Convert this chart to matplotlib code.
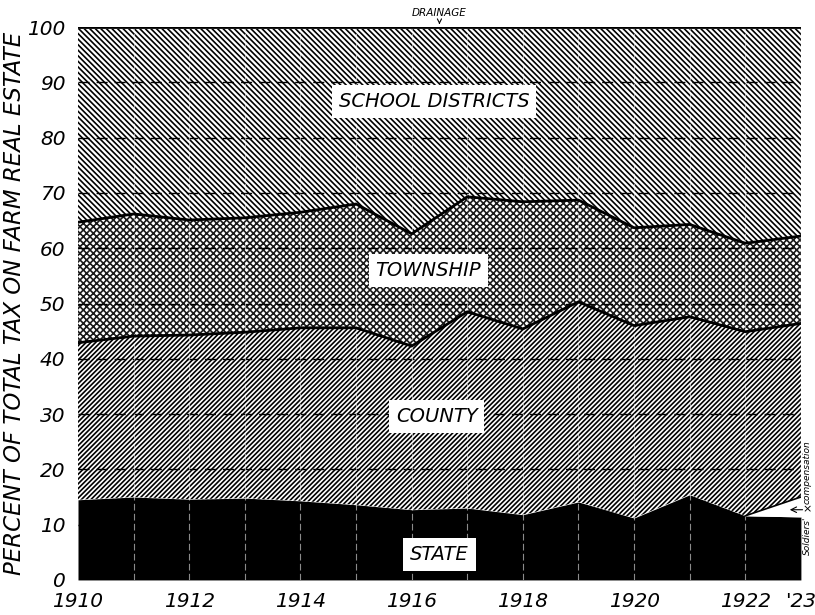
import numpy as np
import matplotlib.pyplot as plt

# -------------------------- data (percent of total tax on farm real estate) --------------------------
years = np.arange(1910, 1924)
state = [14.5, 15.0, 14.6, 14.8, 14.3, 13.6, 12.7, 13.0, 11.8, 14.1, 11.2, 15.4, 11.6, 11.4]
soldiers = [0, 0, 0, 0, 0, 0, 0, 0, 0, 0, 0, 0, 0, 3.6]
county = [28.4, 29.1, 29.7, 30.0, 31.3, 32.0, 29.6, 35.5, 33.6, 36.2, 34.8, 32.2, 33.3, 31.4]
township = [21.8, 22.1, 20.8, 20.7, 20.9, 22.4, 20.3, 20.8, 23.0, 18.4, 17.7, 16.7, 16.0, 15.8]
school = [35.0, 33.5, 34.6, 34.2, 33.2, 31.7, 37.1, 30.4, 31.3, 31.0, 36.0, 35.4, 38.8, 37.5]
drainage = [0.3] * 14

xtick_pos = [1910, 1912, 1914, 1916, 1918, 1920, 1922, 1923]
xtick_lab = ['1910', '1912', '1914', '1916', '1918', '1920', '1922', "'23"]
ytick_pos = list(range(0, 101, 10))

plt.rcParams['hatch.linewidth'] = 1.2
plt.rcParams['font.family'] = ['DejaVu Sans']

fig = plt.figure(figsize=(8.15, 6.15), dpi=100)
ax = fig.add_axes([0.0957, 0.057, 0.887, 0.899])

# cumulative boundaries
b0 = np.zeros(len(years))
b1 = b0 + np.array(state)
b2 = b1 + np.array(soldiers)
b3 = b2 + np.array(county)
b4 = b3 + np.array(township)
b5 = b4 + np.array(school)
b6 = b5 + np.array(drainage)

ax.fill_between(years, b0, b1, facecolor='black', edgecolor='black', lw=0)
ax.fill_between(years, b1, b2, facecolor='white', edgecolor='black', lw=0)
ax.fill_between(years, b2, b3, facecolor='white', edgecolor='black', hatch='/' * 7, lw=0)
ax.fill_between(years, b3, b4, facecolor='white', edgecolor='#1a1a1a', hatch='x' * 5, lw=0)
ax.fill_between(years, b4, b5, facecolor='white', edgecolor='black', hatch='\\' * 6, lw=0)
ax.fill_between(years, b5, b6, facecolor='white', edgecolor='black', lw=0)

# grid: dashed horizontals, faint verticals
for yv in range(10, 100, 10):
    ax.axhline(yv, color='black', lw=1.0, ls=(0, (8, 5)), zorder=3)
for xv in years[1:-1]:
    ax.axvline(xv, color='white', lw=0.8, ls=(0, (6, 3)), alpha=0.55, zorder=3)

# boundary lines
ax.plot(years, b3, color='black', lw=2.0, zorder=4)
ax.plot(years, b4, color='black', lw=2.0, zorder=4)
ax.plot(years, b6, color='black', lw=2.0, zorder=4)
ax.plot(years[-2:], b2[-2:], color='black', lw=1.2, zorder=4)

ax.set_xlim(1910, 1923)
ax.set_ylim(0, 100)
for s in ax.spines.values():
    s.set_visible(False)

ax.set_xticks(xtick_pos)
ax.set_xticklabels(xtick_lab, fontsize=14.5, style='italic')
ax.set_yticks(ytick_pos)
ax.set_yticklabels([str(v) for v in ytick_pos], fontsize=14.5, style='italic')
ax.tick_params(length=0, pad=9)
ax.set_ylabel('PERCENT OF TOTAL TAX ON FARM REAL ESTATE', fontsize=16.5, style='italic', labelpad=1)

box = dict(facecolor='white', edgecolor='none', pad=5)
ax.text(1916.4, 86.5, 'SCHOOL DISTRICTS', fontsize=14, style='italic', ha='center', va='center', bbox=box, zorder=5)
ax.text(1916.3, 56.0, 'TOWNSHIP', fontsize=14, style='italic', ha='center', va='center', bbox=box, zorder=5)
ax.text(1916.45, 29.5, 'COUNTY', fontsize=14, style='italic', ha='center', va='center', bbox=box, zorder=5)
ax.text(1916.5, 4.6, 'STATE', fontsize=14, style='italic', ha='center', va='center', bbox=box, zorder=5)

ax.annotate('DRAINAGE', xy=(1916.5, 100), xytext=(1916.5, 102.6), fontsize=7.5, style='italic',
            ha='center', va='center', annotation_clip=False,
            arrowprops=dict(arrowstyle='->', color='black', lw=0.8))

ax.annotate('', xy=(1922.75, 12.7), xytext=(1923.08, 12.7), annotation_clip=False,
            arrowprops=dict(arrowstyle='->', color='black', lw=0.8))
ax.text(1923.12, 12.7, '×', fontsize=8, ha='center', va='center', clip_on=False)
ax.text(1923.12, 8.0, "Soldiers'", fontsize=6.5, style='italic', rotation=90, ha='center', va='center', clip_on=False)
ax.text(1923.12, 19.5, 'compensation', fontsize=6.5, style='italic', rotation=90, ha='center', va='center', clip_on=False)

fig.savefig('out.png', dpi=100)
